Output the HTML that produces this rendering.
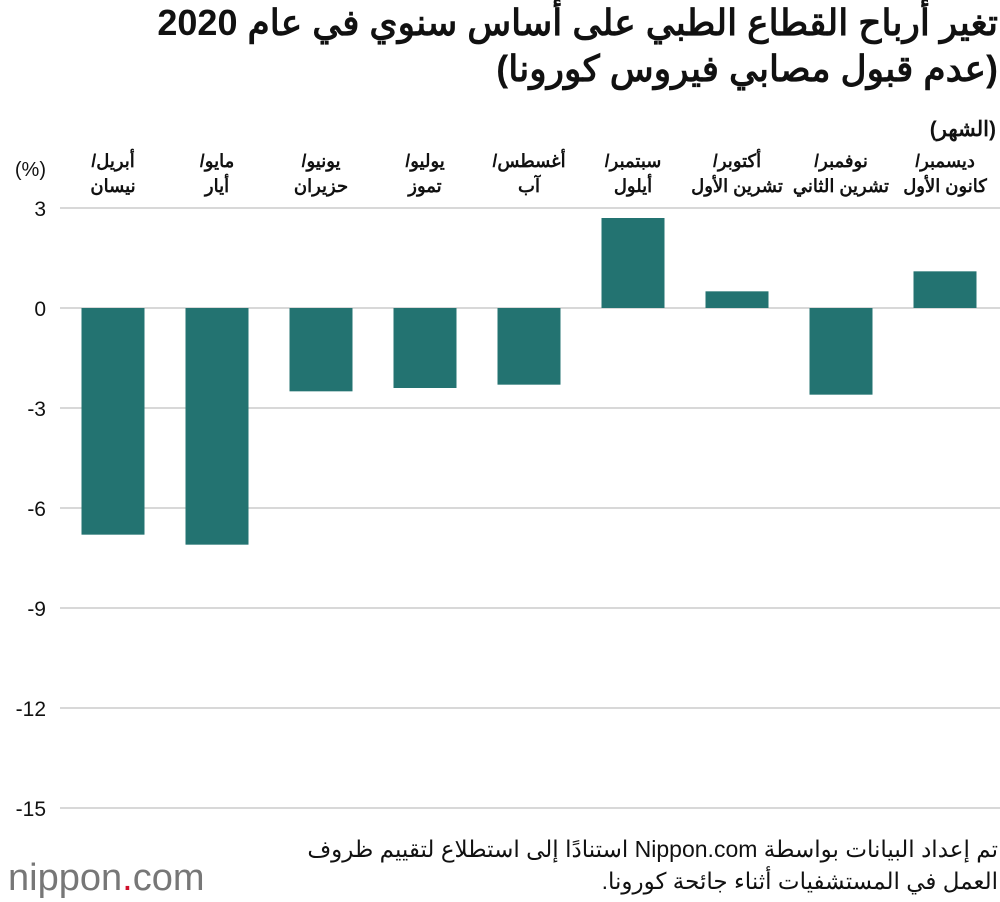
<!DOCTYPE html>
<html><head><meta charset="utf-8">
<style>
body{margin:0;width:1000px;height:902px;background:#fff;overflow:hidden;font-family:"Liberation Sans","Noto Sans CJK SC",sans-serif;color:#111}
.title{position:absolute;right:2px;font-size:36px;font-weight:bold;direction:rtl;white-space:nowrap}
.foot{position:absolute;right:2px;font-size:23px;direction:rtl;white-space:nowrap}
</style></head><body>
<div class="title" style="top:2px">تغير أرباح القطاع الطبي على أساس سنوي في عام 2020</div>
<div class="title" style="top:48px">(عدم قبول مصابي فيروس كورونا)</div>
<svg id="chart" width="1000" height="902" style="position:absolute;left:0;top:0" xmlns="http://www.w3.org/2000/svg"></svg>
<div class="foot" style="top:836px">تم إعداد البيانات بواسطة Nippon.com استنادًا إلى استطلاع لتقييم ظروف</div>
<div class="foot" style="top:868px">العمل في المستشفيات أثناء جائحة كورونا.</div>
<div style="position:absolute;left:8px;top:858px;font-size:38px;color:#777;line-height:40px">nippon<span style="color:#d0102b">.</span>com</div>
<script>
const categories1=["أبريل/","مايو/","يونيو/","يوليو/","أغسطس/","سبتمبر/","أكتوبر/","نوفمبر/","ديسمبر/"];
const categories2=["نيسان","أيار","حزيران","تموز","آب","أيلول","تشرين الأول","تشرين الثاني","كانون الأول"];
const values=[-6.8,-7.1,-2.5,-2.4,-2.3,2.7,0.5,-2.6,1.1];
const ticks=[3,0,-3,-6,-9,-12,-15];
const ns="http://www.w3.org/2000/svg";
const svg=document.getElementById('chart');
const y=v=>308-(v)*100/3;
const x=i=>113+i*104;
function mk(t,a){const e=document.createElementNS(ns,t);for(const k in a)e.setAttribute(k,a[k]);svg.appendChild(e);return e;}
ticks.forEach(t=>{
  const l=mk('line',{x1:60,x2:1000,y1:y(t),y2:y(t),stroke:'#ccc','stroke-width':1.5});
  
  
  const tx=mk('text',{x:46,y:y(t)+8,'text-anchor':'end','font-size':21,fill:'#111'});
  tx.textContent=t;
  
  
});
const u=mk('text',{x:46,y:176,'text-anchor':'end','font-size':20,fill:'#111'});u.textContent='(%)';


const m=mk('text',{x:996,y:136,'text-anchor':'start','font-size':21,fill:'#111',direction:'rtl','font-weight':'bold'});m.textContent='(الشهر)';


values.forEach((v,i)=>{
  const r=mk('rect',{x:x(i)-31.5,width:63,y:Math.min(y(v),y(0)),height:Math.abs(y(v)-y(0)),fill:'#237371'});
  
  
  const a=mk('text',{x:x(i),y:167,'text-anchor':'middle','font-size':18,'font-weight':'bold',fill:'#111',direction:'rtl'});a.textContent=categories1[i];
  
  
  const b=mk('text',{x:x(i),y:192,'text-anchor':'middle','font-size':18,'font-weight':'bold',fill:'#111',direction:'rtl'});b.textContent=categories2[i];
  
  
});
</script>
</body></html>
